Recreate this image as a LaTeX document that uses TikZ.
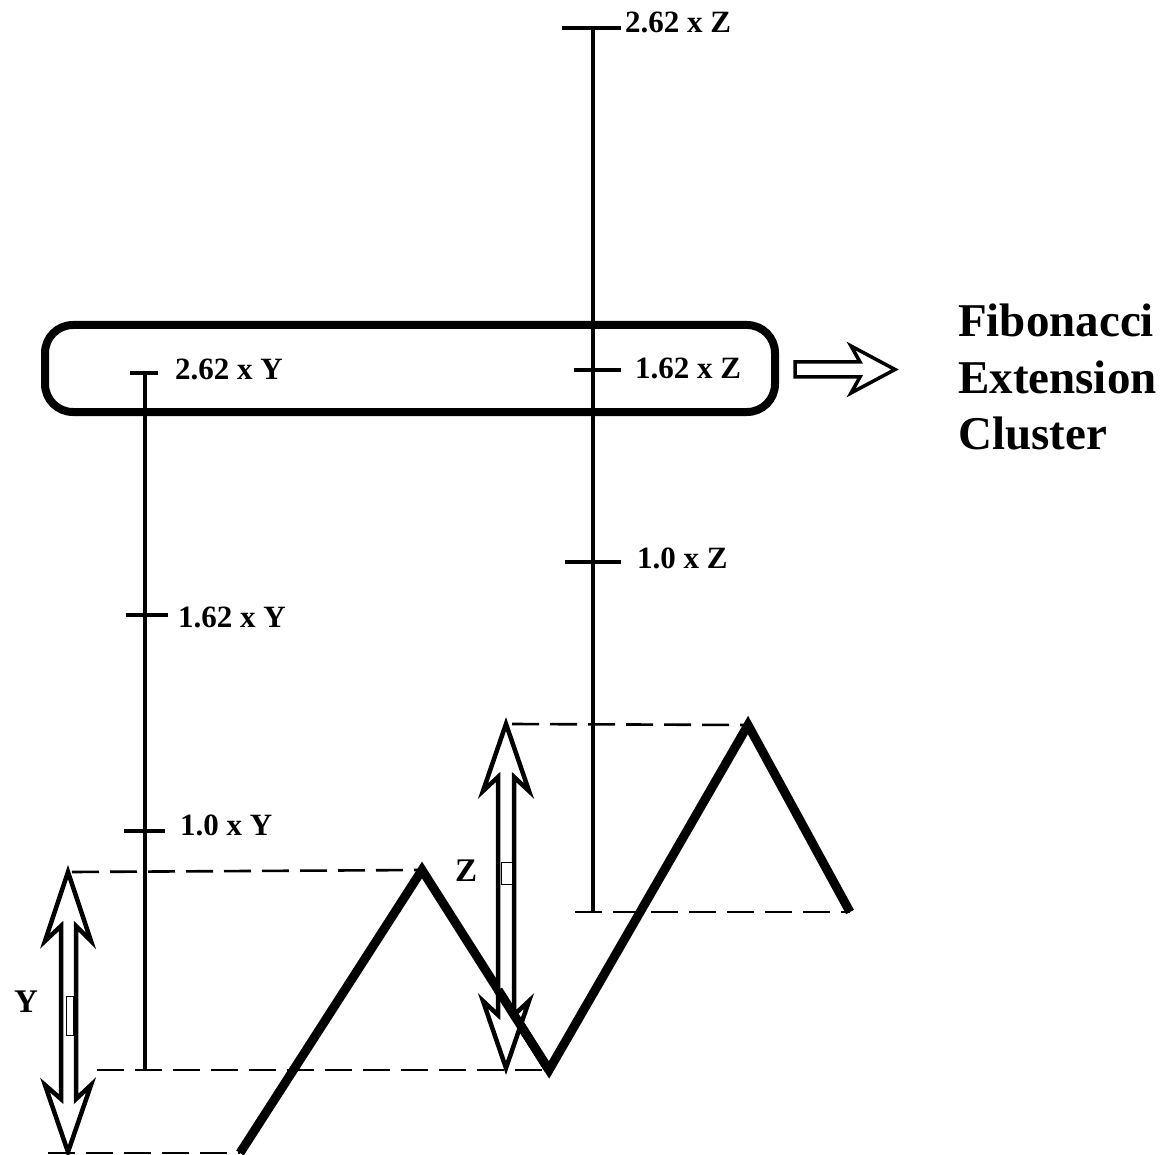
\documentclass[tikz,border=0pt]{standalone}
\usepackage{fontspec}
\setmainfont{Liberation Serif}
\usetikzlibrary{calc}
\begin{document}
\begin{tikzpicture}[x=1pt,y=-1pt,
  zig/.style={line width=9pt,line join=miter,line cap=butt},
  guide/.style={line width=2.6pt,dash pattern=on 27pt off 11pt},
  axis/.style={line width=4pt},
  tick/.style={line width=4pt},
  lbl/.style={font=\fontsize{31}{36}\selectfont\bfseries,inner sep=0pt,anchor=base west},
  hollow/.style={draw=black,fill=white,line width=4.5pt,line join=miter},
  gap/.style={draw=black,fill=white,line width=0.8pt},
  frame/.style={draw=black,line width=8pt,rounded corners=28pt}]
\useasboundingbox (0,0) rectangle (1175,1155);

% zigzag price path
\coordinate (p0) at (240,1153);
\coordinate (p1) at (422,870);
\coordinate (p2) at (549,1070);
\coordinate (p3) at (748,725);
\coordinate (p4) at (850,912);
\draw[zig] (p0) -- (p1) -- (p2) -- (p3) -- (p4);

% dashed guides
\coordinate (gy1a) at (72,872);  \coordinate (gy1b) at (p1);
\coordinate (gy2a) at (97,1070); \coordinate (gy2b) at (p2);
\coordinate (gy3a) at (48,1153); \coordinate (gy3b) at (p0);
\coordinate (gz1a) at (512,724); \coordinate (gz1b) at (p3);
\coordinate (gz2a) at (575,912); \coordinate (gz2b) at (p4);
\draw[guide] (gy1a) -- (gy1b);
\draw[guide] (gy2a) -- (gy2b);
\draw[guide] (gy3a) -- (gy3b);
\draw[guide] (gz1a) -- (gz1b);
\draw[guide] (gz2a) -- (gz2b);

% Y extension axis
\coordinate (ytop) at (145,375);
\coordinate (ybot) at (145,1070);
\draw[axis] (ytop) -- (ybot);
\coordinate (ty3a) at (130,373); \coordinate (ty3b) at (158,373);
\coordinate (ty2a) at (126,615); \coordinate (ty2b) at (168,615);
\coordinate (ty1a) at (124,831); \coordinate (ty1b) at (165,831);
\draw[tick] (ty3a) -- (ty3b);
\draw[tick] (ty2a) -- (ty2b);
\draw[tick] (ty1a) -- (ty1b);
\node[lbl] (ly3) at (175,380) {2.62 x Y};
\node[lbl] (ly2) at (178,627) {1.62 x Y};
\node[lbl] (ly1) at (180,835) {1.0 x Y};

% Z extension axis
\coordinate (ztop) at (593,28);
\coordinate (zbot) at (593,912);
\draw[axis] (ztop) -- (zbot);
\coordinate (tz3a) at (562,28);  \coordinate (tz3b) at (621,28);
\coordinate (tz2a) at (574,370); \coordinate (tz2b) at (621,370);
\coordinate (tz1a) at (565,562); \coordinate (tz1b) at (621,562);
\draw[tick] (tz3a) -- (tz3b);
\draw[tick] (tz2a) -- (tz2b);
\draw[tick] (tz1a) -- (tz1b);
\node[lbl] (lz3) at (625,33) {2.62 x Z};
\node[lbl] (lz2) at (635,378) {1.62 x Z};
\node[lbl] (lz1) at (637,568) {1.0 x Z};

% cluster frame
\node[frame,minimum width=730pt,minimum height=87pt,inner sep=0pt] (cluster) at (410,368.5) {};

% hollow arrow to the caption
\draw[hollow,line width=3.5pt] (795,362) -- (860,362) -- (851,346) -- (895,369.5) -- (851,393) -- (860,377) -- (795,377) -- cycle;
\node[font=\fontsize{47}{56}\selectfont\bfseries,inner sep=0pt,anchor=base west] (fib) at (958,337) {Fibonacci};
\node[font=\fontsize{47}{56}\selectfont\bfseries,inner sep=0pt,anchor=base west] (ext) at (958,393) {Extension};
\node[font=\fontsize{47}{56}\selectfont\bfseries,inner sep=0pt,anchor=base west] (clu) at (958,449) {Cluster};

% Y double-headed hollow arrow
\draw[hollow] (68,872) -- (91,941) -- (76,926) -- (76,1099) -- (91,1085) -- (68,1152)
  -- (45,1085) -- (61,1099) -- (61,926) -- (45,941) -- cycle;
\draw[gap] (66,996) rectangle (73,1035);
\node[font=\fontsize{33}{38}\selectfont\bfseries,inner sep=0pt,anchor=base west] (ylab) at (14,1012) {Y};

% Z double-headed hollow arrow
\draw[hollow] (506,724) -- (529,791) -- (514,777) -- (514,1015) -- (529,1001) -- (506,1068)
  -- (483,1001) -- (498,1015) -- (498,777) -- (483,791) -- cycle;
\draw[gap] (501,862) rectangle (512,884);
\node[font=\fontsize{33}{38}\selectfont\bfseries,inner sep=0pt,anchor=base west] (zlab) at (455,881) {Z};

% the falling leg passes over the Z arrow head
\draw[zig] ($(p1)!0.6!(p2)$) -- (p2);
\end{tikzpicture}
\end{document}
